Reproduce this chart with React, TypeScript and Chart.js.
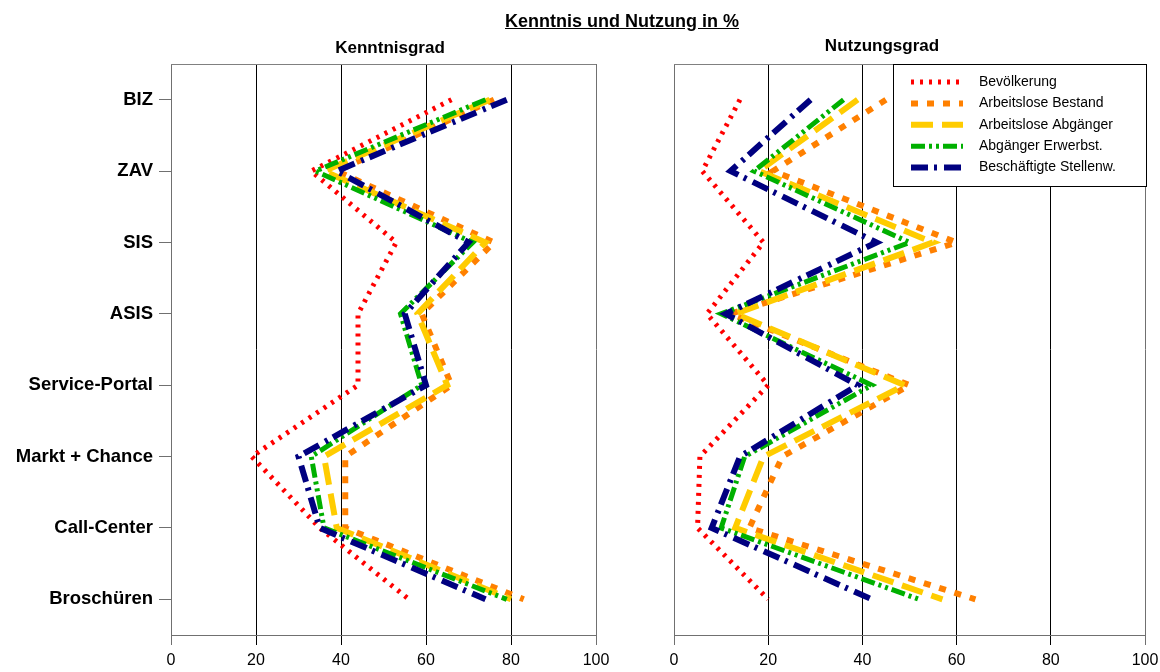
import { useEffect, useRef } from 'react';
import { Chart, registerables } from 'chart.js';

Chart.register(...registerables);

const FONT = '"Liberation Sans", Arial, Helvetica, sans-serif';

const categories = ['BIZ', 'ZAV', 'SIS', 'ASIS', 'Service-Portal', 'Markt + Chance', 'Call-Center', 'Broschüren'];
const xTickValues = [0, 20, 40, 60, 80, 100];
const seriesNames = ['Bevölkerung', 'Arbeitslose Bestand', 'Arbeitslose Abgänger', 'Abgänger Erwerbst.', 'Beschäftigte Stellenw.'];

// Kenntnisgrad (%)
const kenntnisBevoelkerung = [66, 33, 53, 44, 44, 19, 35, 56];
const kenntnisAlBestand = [76, 39, 76, 59, 66, 41, 41, 83];
const kenntnisAlAbgaenger = [75, 36, 74, 58, 65, 36, 39, 80];
const kenntnisAbgErwerbst = [74, 34, 71, 54, 59, 33, 36, 79];
const kenntnisBeschaeftigte = [79, 39, 70, 55, 60, 30, 35, 74];

// Nutzungsgrad (%)
const nutzungBevoelkerung = [14, 6, 19, 7, 20, 5.5, 5, 20];
const nutzungAlBestand = [45, 21, 60, 12, 50, 23, 16, 64];
const nutzungAlAbgaenger = [39, 18, 55, 13, 49, 19, 13, 57];
const nutzungAbgErwerbst = [36, 17, 50, 10, 42, 15, 10, 52];
const nutzungBeschaeftigte = [29, 12, 43, 11, 39, 14, 8, 42];

const lineStyles = [
  { color: '#FF0000', width: 5, dash: [3, 6] },
  { color: '#FF8000', width: 6, dash: [7, 9] },
  { color: '#FFCC00', width: 6, dash: [22, 9] },
  { color: '#00B000', width: 5, dash: [14, 4, 3, 4, 3, 4] },
  { color: '#000080', width: 6, dash: [17, 6, 3, 7] },
];

// thin gray line closing the plot frame at the top
const frameTop = {
  id: 'frameTop',
  afterDraw(chart: any) {
    const { ctx, chartArea } = chart;
    ctx.save();
    ctx.strokeStyle = '#808080';
    ctx.lineWidth = 1;
    ctx.beginPath();
    ctx.moveTo(chartArea.left, Math.round(chartArea.top) + 0.5);
    ctx.lineTo(chartArea.right, Math.round(chartArea.top) + 0.5);
    ctx.stroke();
    ctx.restore();
  },
};

// boxed legend in the upper right corner of the usage panel
const legendBox = {
  id: 'legendBox',
  afterDraw(chart: any) {
    const ctx = chart.ctx;
    const x0 = 283.5;
    const y0 = 64.5;
    const w = 253;
    const h = 122;
    ctx.save();
    ctx.fillStyle = '#ffffff';
    ctx.fillRect(x0, y0, w, h);
    ctx.strokeStyle = '#000000';
    ctx.lineWidth = 1;
    ctx.strokeRect(x0, y0, w, h);
    seriesNames.forEach((name, i) => {
      const y = 82 + i * 21.4;
      const s = lineStyles[i];
      ctx.strokeStyle = s.color;
      ctx.lineWidth = s.width;
      ctx.lineCap = 'butt';
      ctx.setLineDash(s.dash);
      ctx.beginPath();
      ctx.moveTo(301, y);
      ctx.lineTo(353, y);
      ctx.stroke();
      ctx.setLineDash([]);
      ctx.fillStyle = '#000000';
      ctx.font = `14px ${FONT}`;
      ctx.textBaseline = 'middle';
      ctx.textAlign = 'left';
      ctx.fillText(name, 369, y);
    });
    ctx.restore();
  },
};

function buildConfig(series: number[][], showCategories: boolean, axisWidth: number, padRight: number, extra: any[]) {
  return {
    type: 'line' as const,
    data: {
      labels: categories,
      datasets: series.map((values, i) => ({
        label: seriesNames[i],
        data: values,
        borderColor: lineStyles[i].color,
        borderWidth: lineStyles[i].width,
        borderDash: lineStyles[i].dash,
        borderCapStyle: 'butt' as const,
        borderJoinStyle: 'miter' as const,
        pointRadius: 0,
        pointHoverRadius: 0,
        tension: 0,
        fill: false,
        order: series.length - i,
      })),
    },
    options: {
      indexAxis: 'y' as const,
      responsive: false,
      animation: false as const,
      devicePixelRatio: 1,
      layout: { autoPadding: false, padding: { left: 0, top: 64, right: padRight, bottom: 0 } },
      plugins: { legend: { display: false }, tooltip: { enabled: false }, title: { display: false } },
      scales: {
        y: {
          type: 'category' as const,
          offset: true,
          grid: {
            display: true,
            drawOnChartArea: false,
            drawTicks: showCategories,
            tickLength: 12,
            offset: false,
            color: '#707070',
          },
          border: { display: true, color: '#707070', width: 1 },
          ticks: {
            display: showCategories,
            color: '#000000',
            padding: 6,
            font: { family: FONT, size: 18.5, weight: 'bold' as const },
          },
          afterFit: (scale: any) => {
            scale.width = axisWidth;
            scale.paddingTop = 0;
            scale.paddingBottom = 0;
          },
        },
        x: {
          type: 'linear' as const,
          min: 0,
          max: 100,
          afterBuildTicks: (scale: any) => {
            scale.ticks = xTickValues.map((v) => ({ value: v }));
          },
          grid: {
            display: true,
            drawOnChartArea: true,
            drawTicks: true,
            tickLength: 10,
            lineWidth: 1,
            color: (c: any) => (c.tick && (c.tick.value === 0 || c.tick.value === 100) ? '#707070' : '#000000'),
          },
          border: { display: true, color: '#707070', width: 1 },
          ticks: {
            color: '#000000',
            padding: 6,
            maxRotation: 0,
            font: { family: FONT, size: 16 },
          },
          afterFit: (scale: any) => {
            scale.height = 37;
            scale.paddingLeft = 0;
            scale.paddingRight = 0;
          },
        },
      },
    },
    plugins: extra,
  };
}

export default function App() {
  const leftRef = useRef<HTMLCanvasElement>(null);
  const rightRef = useRef<HTMLCanvasElement>(null);

  useEffect(() => {
    const left = new Chart(
      leftRef.current!,
      buildConfig(
        [kenntnisBevoelkerung, kenntnisAlBestand, kenntnisAlAbgaenger, kenntnisAbgErwerbst, kenntnisBeschaeftigte],
        true,
        171,
        14,
        [frameTop]
      ) as any
    );
    const right = new Chart(
      rightRef.current!,
      buildConfig(
        [nutzungBevoelkerung, nutzungAlBestand, nutzungAlAbgaenger, nutzungAbgErwerbst, nutzungBeschaeftigte],
        false,
        64,
        15,
        [frameTop, legendBox]
      ) as any
    );
    return () => {
      left.destroy();
      right.destroy();
    };
  }, []);

  const heading = {
    position: 'absolute' as const,
    transform: 'translateX(-50%)',
    fontWeight: 'bold' as const,
    lineHeight: 1,
    whiteSpace: 'nowrap' as const,
    color: '#000',
  };

  return (
    <div
      style={{
        position: 'absolute',
        left: 0,
        top: 0,
        width: 1160,
        height: 672,
        background: '#ffffff',
        overflow: 'hidden',
        fontFamily: FONT,
      }}
    >
      <canvas ref={leftRef} width={610} height={672} style={{ position: 'absolute', left: 0, top: 0 }} />
      <canvas ref={rightRef} width={550} height={672} style={{ position: 'absolute', left: 610, top: 0 }} />
      <div style={{ ...heading, left: 622, top: 12, fontSize: 18, textDecoration: 'underline' }}>Kenntnis und Nutzung in %</div>
      <div style={{ ...heading, left: 390, top: 39, fontSize: 17 }}>Kenntnisgrad</div>
      <div style={{ ...heading, left: 882, top: 37, fontSize: 17 }}>Nutzungsgrad</div>
    </div>
  );
}
